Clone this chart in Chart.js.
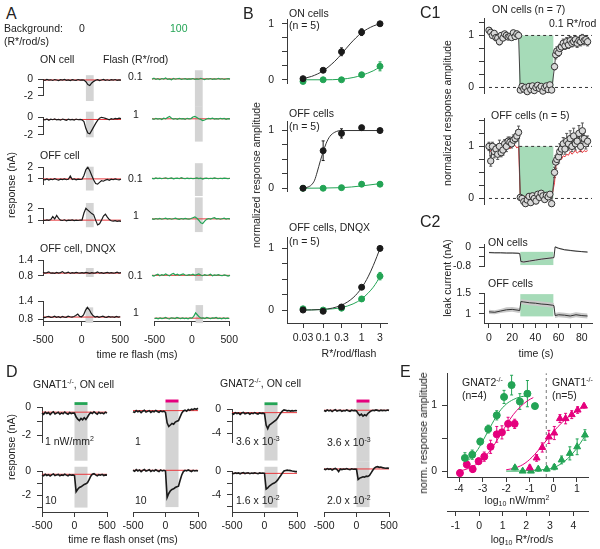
<!DOCTYPE html>
<html>
<head>
<meta charset="utf-8">
<script src="https://cdn.jsdelivr.net/npm/chart.js@4.4.1/dist/chart.umd.min.js"></script>
<style>
  body { margin: 0; width: 600px; height: 549px; position: relative; overflow: hidden; background: #fff;
         font-family: "Liberation Sans", Arial, sans-serif; color: #222; }
  canvas { position: absolute; }
  .t { position: absolute; font-size: 10.5px; line-height: 12px; white-space: nowrap; z-index: 2; }
  .p { position: absolute; font-size: 16px; line-height: 18px; z-index: 2; }
  .r { position: absolute; font-size: 10.5px; line-height: 12px; white-space: nowrap; z-index: 2;
       transform: translate(-50%, -50%) rotate(-90deg); }
  .c { transform: translateX(-50%); }
  sup { font-size: 7px; vertical-align: 4px; line-height: 0; }
  sub { font-size: 7px; vertical-align: -2px; line-height: 0; }
</style>
</head>
<body>
<!-- panel A -->
<div class="p" style="left:6px;top:5px">A</div>
<div class="t" style="left:4px;top:22px">Background:</div>
<div class="t" style="left:4px;top:35px">(R*/rod/s)</div>
<div class="t" style="left:79px;top:22px">0</div>
<div class="t" style="left:170px;top:22px;color:#23a455">100</div>
<div class="t" style="left:40px;top:53px">ON cell</div>
<div class="t" style="left:103px;top:53px">Flash (R*/rod)</div>
<div class="t" style="left:128px;top:70px">0.1</div>
<div class="t" style="left:133px;top:108px">1</div>
<div class="t" style="left:40px;top:149px">OFF cell</div>
<div class="t" style="left:128px;top:172px">0.1</div>
<div class="t" style="left:133px;top:209px">1</div>
<div class="t" style="left:40px;top:242px">OFF cell, DNQX</div>
<div class="t" style="left:128px;top:269px">0.1</div>
<div class="t" style="left:133px;top:306px">1</div>
<div class="t c" style="left:137px;top:348px">time re flash (ms)</div>
<div class="r" style="left:11px;top:185px">response (nA)</div>
<!-- panel B -->
<div class="p" style="left:243px;top:5px">B</div>
<div class="t" style="left:289px;top:7px">ON cells</div>
<div class="t" style="left:289px;top:19px">(n = 5)</div>
<div class="t" style="left:289px;top:107px">OFF cells</div>
<div class="t" style="left:289px;top:120px">(n = 5)</div>
<div class="t" style="left:289px;top:221px">OFF cells, DNQX</div>
<div class="t" style="left:289px;top:235px">(n = 5)</div>
<div class="r" style="left:256px;top:175px">normalized response amplitude</div>
<div class="t c" style="left:349px;top:347px">R*/rod/flash</div>
<!-- panel C -->
<div class="p" style="left:420px;top:4px">C1</div>
<div class="t" style="left:492px;top:3px">ON cells (n = 7)</div>
<div class="t" style="left:549px;top:17px">0.1 R*/rod</div>
<div class="t" style="left:491px;top:109px">OFF cells (n = 5)</div>
<div class="r" style="left:447px;top:113px">normalized response amplitude</div>
<div class="p" style="left:420px;top:213px">C2</div>
<div class="t" style="left:488px;top:236px">ON cells</div>
<div class="t" style="left:488px;top:277px">OFF cells</div>
<div class="r" style="left:447px;top:278px">leak current (nA)</div>
<div class="t c" style="left:536px;top:347px">time (s)</div>
<!-- panel D -->
<div class="p" style="left:6px;top:363px">D</div>
<div class="t" style="left:33px;top:378px">GNAT1<sup>-/-</sup>, ON cell</div>
<div class="t" style="left:220px;top:377px">GNAT2<sup>-/-</sup>, ON cell</div>
<div class="t" style="left:45px;top:435px">1 nW/mm<sup>2</sup></div>
<div class="t" style="left:45px;top:494px">10</div>
<div class="t" style="left:135px;top:435px">1</div>
<div class="t" style="left:135px;top:494px">10</div>
<div class="t" style="left:236px;top:435px">3.6 x 10<sup>-3</sup></div>
<div class="t" style="left:236px;top:494px">1.6 x 10<sup>-2</sup></div>
<div class="t" style="left:327px;top:436px">3.6 x 10<sup>-3</sup></div>
<div class="t" style="left:327px;top:494px">2.0 x 10<sup>-2</sup></div>
<div class="t c" style="left:123px;top:533px">time re flash onset (ms)</div>
<div class="r" style="left:11px;top:447px">response (nA)</div>
<!-- panel E -->
<div class="p" style="left:400px;top:363px">E</div>
<div class="t" style="left:462px;top:376px">GNAT2<sup>-/-</sup></div>
<div class="t" style="left:462px;top:389px">(n=4)</div>
<div class="t" style="left:552px;top:376px">GNAT1<sup>-/-</sup></div>
<div class="t" style="left:552px;top:389px">(n=5)</div>
<div class="r" style="left:423px;top:433px">norm. response amplitude</div>
<div class="t c" style="left:517px;top:494px">log<sub>10</sub> nW/mm<sup>2</sup></div>
<div class="t c" style="left:522px;top:533px">log<sub>10</sub> R*/rod/s</div>

<script>
// ---- time base for the flash traces (ms), A and D ----
const tFlash = [-500,-475,-450,-425,-400,-375,-350,-325,-300,-275,-250,-225,-200,-175,-150,-125,-100,-75,-50,-25,
  0,25,50,75,100,125,150,175,200,225,250,275,300,325,350,375,400,425,450,475,500];

// A, background 0 (black traces)
const onDim0 = [-0.05,-0.12,-0.02,-0.1,-0.06,-0.14,-0.03,-0.09,-0.15,-0.05,-0.1,-0.02,-0.12,-0.07,-0.16,-0.04,-0.09,-0.13,-0.03,-0.1,
  -0.06,-0.1,-0.3,-0.65,-0.75,-0.45,-0.25,-0.12,-0.05,-0.15,-0.08,-0.02,-0.12,-0.06,-0.14,-0.04,-0.1,-0.03,-0.12,-0.07,-0.1];
const onBright0 = [-0.25,-0.3,-0.2,-0.35,-0.22,-0.28,-0.18,-0.3,-0.25,-0.33,-0.2,-0.27,-0.35,-0.22,-0.3,-0.24,-0.32,-0.2,-0.28,-0.25,
  -0.3,-0.5,-1.3,-1.8,-1.9,-1.5,-1.1,-0.7,-0.35,-0.1,0.0,-0.05,-0.12,-0.2,-0.28,-0.15,-0.22,-0.12,-0.18,-0.1,-0.15];
const offDim0 = [0.95,0.92,1.0,0.9,0.97,0.93,1.02,0.95,0.9,0.98,0.94,1.0,0.93,0.97,1.25,0.95,1.0,0.92,0.98,0.95,
  0.97,1.3,1.8,2.0,1.7,1.3,0.9,0.6,0.55,0.7,0.85,0.8,0.9,0.95,0.88,0.98,0.93,1.0,0.95,0.92,0.97];
const offBright0 = [1.0,0.97,1.02,0.98,1.05,1.3,1.1,1.4,1.15,1.0,0.97,1.03,0.95,1.0,0.98,1.02,0.96,1.0,0.97,1.01,
  1.0,1.6,2.0,1.85,1.7,1.55,1.45,1.0,0.6,0.7,1.0,1.35,1.5,1.25,1.05,0.95,0.92,0.95,0.9,0.93,0.9];
const dnqxDim0 = [0.93,0.9,0.92,0.95,0.9,0.91,0.89,0.93,0.9,0.92,0.96,0.9,0.91,0.94,0.89,0.92,0.9,0.93,0.91,0.9,
  0.92,0.9,0.93,0.91,0.89,0.92,0.9,0.91,0.95,0.9,0.92,0.89,0.91,0.93,0.9,0.92,0.9,0.91,0.94,0.9,0.92];
const dnqxBright0 = [0.88,0.86,0.89,0.9,0.87,0.88,0.91,0.87,0.89,0.86,0.9,0.88,0.87,0.91,0.89,0.88,0.9,0.93,0.98,0.9,
  0.89,0.95,1.1,1.2,1.12,1.0,0.92,0.88,0.9,0.87,0.89,0.91,0.88,0.87,0.9,0.88,0.89,0.87,0.9,0.88,0.89];
// A, background 100 (green traces)
const onDim100 = [-0.28,-0.2,-0.3,-0.24,-0.32,-0.22,-0.27,-0.18,-0.3,-0.25,-0.33,-0.22,-0.28,-0.24,-0.2,-0.3,-0.26,-0.23,-0.29,-0.25,
  -0.27,-0.22,-0.3,-0.25,-0.28,-0.2,-0.26,-0.31,-0.24,-0.27,-0.22,-0.3,-0.25,-0.28,-0.21,-0.27,-0.24,-0.3,-0.26,-0.23,-0.27];
const onBright100 = [-0.4,-0.45,-0.36,-0.42,-0.38,-0.46,-0.35,-0.4,-0.3,-0.2,-0.35,-0.42,-0.38,-0.44,-0.37,-0.41,-0.39,-0.45,-0.36,-0.4,
  -0.38,-0.25,-0.2,-0.3,-0.4,-0.45,-0.55,-0.5,-0.42,-0.36,-0.4,-0.34,-0.42,-0.38,-0.43,-0.36,-0.4,-0.37,-0.44,-0.39,-0.41];
const offDim100 = [1.1,1.07,1.13,1.09,1.12,1.08,1.11,1.14,1.09,1.1,1.13,1.07,1.1,1.12,1.08,1.15,1.1,1.08,1.12,1.09,
  1.11,1.08,1.1,1.13,1.09,1.11,1.06,1.1,1.12,1.08,1.11,1.09,1.13,1.1,1.08,1.11,1.09,1.12,1.1,1.08,1.11];
const offBright100 = [1.18,1.15,1.2,1.17,1.21,1.16,1.19,1.22,1.17,1.2,1.16,1.19,1.22,1.18,1.15,1.2,1.17,1.21,1.18,1.16,
  1.2,1.25,1.3,1.22,1.1,0.95,0.9,1.05,1.15,1.2,1.17,1.22,1.25,1.18,1.2,1.16,1.19,1.22,1.17,1.2,1.18];
const dnqxDim100 = [0.9,0.88,0.91,0.93,0.89,0.92,0.9,0.94,0.91,0.89,0.93,0.95,0.91,0.93,0.9,0.92,0.94,0.91,0.9,0.92,
  0.91,0.93,0.9,0.92,0.94,0.91,0.89,0.92,0.9,0.91,0.93,0.89,0.91,0.9,0.92,0.9,0.89,0.91,0.9,0.88,0.9];
const dnqxBright100 = [0.82,0.83,0.81,0.84,0.82,0.83,0.85,0.82,0.81,0.84,0.83,0.82,0.85,0.83,0.82,0.84,0.82,0.83,0.81,0.84,
  0.83,0.88,0.98,0.92,0.86,0.83,0.84,0.82,0.85,0.83,0.82,0.84,0.83,0.85,0.82,0.83,0.81,0.84,0.82,0.83,0.82];
const base0 = [-0.08, -0.25, 1.0, 1.0, 0.9, 0.88];
const base100 = [-0.25, -0.4, 1.1, 1.18, 0.9, 0.83];

// B, flash strengths and normalized amplitudes
const flashes = [0.03, 0.1, 0.3, 1, 3];
const onDark = [0.02, 0.17, 0.5, 0.85, 1.0],    onDarkErr = [0.02, 0.03, 0.07, 0.06, 0.03];
const onBg = [-0.03, 0.0, 0.0, 0.09, 0.24],     onBgErr = [0.02, 0.02, 0.02, 0.04, 0.08];
const offDark = [0.0, 0.65, 0.95, 1.05, 1.0],   offDarkErr = [0.02, 0.17, 0.08, 0.04, 0.02];
const offBg = [0.0, 0.0, 0.01, 0.07, 0.07],     offBgErr = [0.01, 0.01, 0.02, 0.04, 0.04];
const dnqxDark = [0.0, -0.02, 0.05, 0.37, 1.0], dnqxDarkErr = [0.01, 0.01, 0.02, 0.03, 0.02];
const dnqxBg = [0.02, 0.0, 0.03, 0.18, 0.55],   dnqxBgErr = [0.01, 0.01, 0.02, 0.04, 0.06];
// fitted curves
const onDarkFitX = [0.025,0.05,0.1,0.2,0.3,0.5,1,2,3], onDarkFitY = [0.01,0.06,0.16,0.33,0.46,0.64,0.84,0.96,1.0];
const onBgFitX = [0.025,0.1,0.3,0.6,1,2,3],           onBgFitY = [0,0,0.01,0.04,0.08,0.16,0.23];
const offDarkFitX = [0.025,0.04,0.05,0.06,0.07,0.085,0.1,0.12,0.15,0.2,0.3,1,3];
const offDarkFitY = [0,0.02,0.06,0.14,0.28,0.48,0.63,0.78,0.9,0.97,1.0,1.0,1.0];
const offBgFitX = [0.025,0.3,1,3],                    offBgFitY = [0,0.01,0.04,0.08];
const dnqxFitX = [0.025,0.1,0.3,0.6,1,1.5,2,2.5,3];
const dnqxDarkFitY = [0,0.01,0.08,0.2,0.36,0.55,0.72,0.87,1.0];
const dnqxBgFitY = [0,0.01,0.04,0.1,0.18,0.28,0.37,0.46,0.55];

// C1, time (s) and normalized amplitude
const tC1 = [0,1.5,3,4.5,6,7.5,9,10.5,12,13.5,15,16.5,18,19.5,21,22.5,24,25.5,
  27,28.5,30,31.5,33,34.5,36,37.5,39,40.5,42,43.5,45,46.5,48,49.5,51,52.5,54,
  56.5,57.5,58.5,60,61,62.5,64,65.5,67,68.5,70,71.5,73,74.5,76,77.5,79,80.5,82,83.5,85];
const onAmp = [1.1,1.06,1.0,1.04,0.96,0.95,0.88,1.0,0.95,1.03,1.0,0.97,0.98,0.96,1.05,0.98,1.03,1.0,
  -0.05,0.02,-0.03,0.0,-0.08,0.02,-0.04,0.03,-0.06,0.0,0.04,-0.02,0.02,-0.07,0.0,0.03,-0.04,0.05,-0.05,
  0.4,0.63,0.7,0.67,0.75,0.78,0.85,0.8,0.88,0.82,0.9,0.85,0.88,0.92,0.85,0.9,0.88,0.95,0.9,0.92,0.88];
const onAmpErr = [0.05,0.04,0.05,0.04,0.06,0.05,0.06,0.04,0.05,0.04,0.05,0.04,0.05,0.04,0.05,0.04,0.05,0.04,
  0.03,0.03,0.03,0.03,0.03,0.03,0.03,0.03,0.03,0.03,0.03,0.03,0.03,0.03,0.03,0.03,0.03,0.03,0.03,
  0.06,0.08,0.08,0.07,0.08,0.07,0.08,0.07,0.08,0.07,0.08,0.07,0.08,0.07,0.08,0.07,0.08,0.07,0.08,0.07,0.08];
const offAmp = [1.0,0.72,1.0,0.9,0.95,0.85,1.0,0.88,0.93,1.05,1.0,1.1,1.08,1.05,1.12,1.15,1.2,1.27,
  0.02,0.0,-0.06,-0.1,-0.03,0.04,-0.08,0.05,0.0,-0.05,0.08,0.02,0.1,0.05,-0.02,0.06,0.03,0.08,-0.1,
  0.5,0.7,0.75,0.8,0.9,0.95,1.05,0.95,1.1,1.05,1.15,1.0,1.2,1.05,1.1,1.25,1.0,1.3,1.15,1.05,1.1];
const offAmpErr = [0.08,0.1,0.08,0.12,0.08,0.1,0.12,0.08,0.1,0.08,0.1,0.08,0.1,0.08,0.1,0.08,0.1,0.12,
  0.05,0.05,0.05,0.05,0.05,0.05,0.05,0.05,0.05,0.05,0.05,0.05,0.05,0.05,0.05,0.05,0.05,0.05,0.05,
  0.1,0.12,0.1,0.12,0.15,0.1,0.12,0.1,0.15,0.12,0.15,0.1,0.15,0.12,0.1,0.15,0.1,0.15,0.12,0.1,0.1];
const offRed = [0.95,0.9,1.0,0.95,1.0,0.92,0.97,0.9,0.98,1.02,0.97,1.0,0.95,1.0,1.05,1.02,0.97,1.0,
  0.0,0.03,-0.02,0.05,0.0,0.04,-0.03,0.02,0.05,0.0,0.03,-0.02,0.04,0.06,0.02,0.0,0.05,0.03,0.02,
  0.3,0.6,0.7,0.72,0.78,0.75,0.82,0.8,0.85,0.83,0.9,0.85,0.88,0.92,0.87,0.9,0.93,0.88,0.92,0.9,0.92];

// C2, leak current (nA) with s.e.m.
const tC2 = [0,5,10,15,20,25,26.5,27.5,30,35,40,45,50,55,56,57,60,65,70,75,80,85];
const onLeak = [-0.22,-0.23,-0.23,-0.24,-0.24,-0.25,-0.26,-0.6,-0.62,-0.58,-0.54,-0.5,-0.47,-0.44,-0.43,0.02,-0.04,-0.1,-0.13,-0.16,-0.18,-0.2];
const onSem = [0.03,0.03,0.03,0.03,0.03,0.03,0.03,0.04,0.04,0.04,0.04,0.04,0.04,0.04,0.04,0.04,0.03,0.03,0.03,0.03,0.03,0.03];
const offLeak = [1.05,1.04,1.07,1.1,1.11,1.09,1.08,1.3,1.29,1.27,1.26,1.24,1.23,1.21,1.2,0.96,0.98,0.97,0.95,0.98,0.96,0.95];
const offSem = [0.05,0.05,0.05,0.06,0.06,0.06,0.06,0.06,0.06,0.06,0.06,0.06,0.06,0.06,0.06,0.06,0.06,0.06,0.06,0.06,0.06,0.06];

// D, GNAT1-/- and GNAT2-/- ON cells (nA)
const g1Low = [-0.4,-0.5,-0.35,-0.45,-0.38,-0.52,-0.4,-0.33,-0.48,-0.42,-0.36,-0.5,-0.4,-0.46,-0.34,-0.44,-0.5,-0.38,-0.45,-0.41,
  -0.42,-0.7,-0.85,-0.95,-0.8,-0.9,-0.75,-0.88,-0.7,-0.5,-0.38,-0.45,-0.32,-0.42,-0.5,-0.36,-0.44,-0.4,-0.47,-0.35,-0.42];
const g1High = [-0.3,-0.38,-0.25,-0.35,-0.28,-0.4,-0.3,-0.22,-0.36,-0.3,-0.26,-0.38,-0.3,-0.34,-0.25,-0.32,-0.38,-0.28,-0.33,-0.3,
  -0.35,-1.7,-1.5,-1.35,-1.3,-1.2,-1.1,-1.05,-0.95,-0.7,-0.4,-0.25,-0.2,-0.3,-0.38,-0.28,-0.33,-0.26,-0.35,-0.3,-0.32];
const g1UvLow = [-0.45,-0.5,-0.38,-0.46,-0.4,-0.52,-0.42,-0.36,-0.48,-0.43,-0.38,-0.5,-0.42,-0.46,-0.37,-0.44,-0.49,-0.4,-0.45,-0.42,
  -0.5,-1.2,-1.45,-1.35,-1.25,-1.3,-1.15,-1.1,-1.05,-0.8,-0.55,-0.4,-0.35,-0.42,-0.3,-0.36,-0.28,-0.32,-0.25,-0.3,-0.22];
const g1UvHigh = [-0.25,-0.32,-0.2,-0.3,-0.22,-0.35,-0.25,-0.18,-0.3,-0.26,-0.2,-0.33,-0.25,-0.3,-0.2,-0.28,-0.34,-0.22,-0.3,-0.25,
  -0.3,-2.3,-2.0,-1.8,-1.7,-1.65,-1.55,-1.5,-1.45,-1.0,-0.6,-0.35,-0.25,-0.3,-0.22,-0.28,-0.34,-0.25,-0.3,-0.27,-0.3];
const g2Low = [-0.65,-0.8,-0.55,-0.7,-0.6,-0.85,-0.62,-0.5,-0.75,-0.65,-0.58,-0.8,-0.63,-0.72,-0.55,-0.68,-0.78,-0.6,-0.7,-0.64,
  -0.7,-2.6,-3.2,-2.6,-2.4,-2.2,-2.0,-1.8,-1.5,-1.0,-0.6,-0.3,-0.1,-0.15,-0.25,-0.2,-0.3,-0.22,-0.28,-0.2,-0.25];
const g2High = [-0.3,-0.4,-0.25,-0.35,-0.28,-0.42,-0.3,-0.22,-0.38,-0.3,-0.26,-0.4,-0.3,-0.35,-0.25,-0.33,-0.4,-0.28,-0.34,-0.3,
  -0.35,-3.0,-2.8,-2.5,-2.3,-2.1,-2.0,-1.8,-1.5,-1.1,-0.7,-0.3,0.05,0.15,0.2,0.15,0.12,0.05,0.0,-0.05,-0.05];
const g2UvLow = [-0.55,-0.65,-0.45,-0.6,-0.5,-0.7,-0.52,-0.42,-0.62,-0.55,-0.48,-0.66,-0.55,-0.6,-0.45,-0.58,-0.66,-0.5,-0.58,-0.53,
  -0.6,-1.0,-1.3,-1.1,-1.4,-1.2,-1.35,-1.0,-0.8,-0.6,-0.5,-0.55,-0.45,-0.52,-0.6,-0.48,-0.55,-0.5,-0.58,-0.46,-0.52];
const g2UvHigh = [-0.3,-0.4,-0.25,-0.35,-0.28,-0.45,-0.3,-0.22,-0.38,-0.7,-0.3,-0.4,-0.3,-0.35,-0.25,-0.33,-0.4,-0.28,-0.34,-0.3,
  -0.35,-1.9,-1.7,-1.6,-1.5,-1.55,-1.4,-1.45,-1.3,-0.9,-0.5,-0.15,0.0,0.05,-0.05,0.0,-0.1,-0.15,-0.2,-0.15,-0.2];
const baseD = [[-0.35, -0.25], [-0.38, -0.25], [-0.55, -0.35], [-0.5, -0.3]];

// E, log10 intensity (nW/mm2) vs normalized amplitude
const g2GreenX = [-3.75,-3.44,-3.1,-2.76,-2.4,-2.09,-1.77,-1.42,-1.1,-0.78];
const g2GreenY = [0.2,0.25,0.45,0.64,0.85,1.13,1.31,1.06,1.18,0.99];
const g2GreenErr = [0.08,0.07,0.05,0.06,0.07,0.1,0.15,0.12,0.2,0];
const g2UvX = [-3.96,-3.67,-3.42,-3.17,-2.93,-2.66,-2.4,-2.18,-1.92,-1.64];
const g2UvY = [-0.03,0.1,0.03,0.15,0.22,0.37,0.56,0.59,0.72,0.72];
const g2UvErr = [0.05,0.05,0.05,0.05,0.07,0.1,0.12,0.1,0.1,0.07];
const g1UvX = [-1.0,-0.71,-0.47,-0.19,0.04,0.28,0.52,0.78,1.03,1.3];
const g1UvY = [0.05,0.2,0.36,0.52,0.58,0.8,0.8,0.86,0.93,0.99];
const g1UvErr = [0.04,0.05,0.07,0.1,0.1,0.06,0.08,0.06,0.05,0.03];
const g1GreenX = [-1.63,-1.3,-0.95,-0.64,-0.28,0.04,0.35,0.7,1.01,1.34];
const g1GreenY = [0.05,0.0,0.0,0.03,0.03,0.06,0.17,0.27,0.37,0.55];
const g1GreenErr = [0.03,0.02,0.02,0.03,0.03,0.04,0.06,0.1,0.12,0.08];
const g2GreenFitX = [-3.8,-3.5,-3.2,-2.9,-2.6,-2.3,-2.0,-1.7,-1.4,-1.1];
const g2GreenFitY = [0.12,0.2,0.33,0.52,0.72,0.9,1.02,1.09,1.13,1.15];
const g2UvFitX = [-4.0,-3.6,-3.2,-2.9,-2.6,-2.3,-2.0,-1.7,-1.4,-1.1,-0.85];
const g2UvFitY = [0.0,0.04,0.12,0.22,0.35,0.52,0.7,0.86,0.98,1.07,1.12];
const g1UvFitX = [-2.0,-1.6,-1.2,-0.8,-0.4,0,0.4,0.8,1.3];
const g1UvFitY = [0.02,0.05,0.12,0.25,0.42,0.6,0.75,0.87,0.98];
const g1GreenFitX = [-2.0,-1.5,-1.0,-0.5,0,0.4,0.8,1.1,1.4];
const g1GreenFitY = [0.0,0.0,0.01,0.02,0.05,0.13,0.26,0.4,0.57];

// ---- colours ----
const BLACK = '#1a1a1a', GREEN = '#23a455', MAGENTA = '#e5007d', RED = '#e8383d',
      GRAY = '#d4d4d4', MINT = '#a6dbb8', AXIS = '#3a3a3a';

Chart.defaults.font.family = '"Liberation Sans", Arial, sans-serif';
Chart.defaults.font.size = 10.5;
Chart.defaults.color = '#222';

// shaded boxes + error bars, drawn under the datasets
const boxMap = new WeakMap();
const extras = {
  id: 'extras',
  beforeDatasetsDraw(chart) {
    const ctx = chart.ctx, xs = chart.scales.x, ys = chart.scales.y;
    ctx.save();
    (boxMap.get(chart.canvas) || []).forEach(b => {
      const x0 = xs.getPixelForValue(b.x0), x1 = xs.getPixelForValue(b.x1);
      const y0 = ys.getPixelForValue(b.y0), y1 = ys.getPixelForValue(b.y1);
      ctx.fillStyle = b.color;
      ctx.fillRect(x0, Math.min(y0, y1), x1 - x0, Math.abs(y1 - y0));
    });
    chart.data.datasets.forEach((ds, i) => {
      if (!ds.errs) return;
      ctx.strokeStyle = ds.errColor || ds.borderColor;
      ctx.lineWidth = 1;
      chart.getDatasetMeta(i).data.forEach((p, j) => {
        const e = ds.errs[j];
        if (!e) return;
        const v = ds.data[j].y;
        const a = ys.getPixelForValue(v - e), b = ys.getPixelForValue(v + e);
        ctx.beginPath();
        ctx.moveTo(p.x, a); ctx.lineTo(p.x, b);
        ctx.moveTo(p.x - 1.5, a); ctx.lineTo(p.x + 1.5, a);
        ctx.moveTo(p.x - 1.5, b); ctx.lineTo(p.x + 1.5, b);
        ctx.stroke();
      });
    });
    ctx.restore();
  }
};

function axis(a, horiz, size, weight) {
  return {
    type: a.type || 'linear', display: !!a.show, position: horiz ? 'bottom' : 'left', weight,
    min: a.min, max: a.max,
    border: { display: true, color: AXIS, width: 1 },
    grid: { drawOnChartArea: false, drawTicks: true, tickLength: 5, color: AXIS },
    ticks: { padding: a.pad ?? 4, autoSkip: false, maxRotation: 0, color: '#222', font: { size: 10.5 },
      callback: v => (a.labels || []).includes(v) ? String(v) : '' },
    afterBuildTicks: s => { s.ticks = (a.ticks || []).map(v => ({ value: v })); },
    afterFit: s => { if (horiz) s.height = size; else s.width = size; }
  };
}

// o.l/o.t/o.w/o.h give the plot area in page pixels
function plot(o) {
  const yw = o.y.show ? 32 : 0;
  const xh = o.x.show ? (o.xh || 36) : 0;
  const x2h = o.x2 ? o.x2.h : 0;
  const pad = { left: o.y.show ? 0 : 16, top: o.mt || 8, right: 16, bottom: o.x.show ? 0 : (o.mb || 8) };
  const cv = document.createElement('canvas');
  cv.width = o.w + yw + pad.left + pad.right;
  cv.height = o.h + xh + x2h + pad.top + pad.bottom;
  cv.style.left = (o.l - yw - pad.left) + 'px';
  cv.style.top = (o.t - pad.top) + 'px';
  document.body.appendChild(cv);
  boxMap.set(cv, o.boxes || []);
  const scales = { x: axis(o.x, true, xh, 0), y: axis(o.y, false, yw, 0) };
  if (o.x2) scales.x2 = axis(o.x2, true, x2h, 1);
  return new Chart(cv, {
    type: 'line',
    data: { datasets: o.ds },
    options: {
      responsive: false, animation: false, events: [], devicePixelRatio: 1,
      layout: { padding: pad }, scales,
      plugins: { legend: { display: false }, tooltip: { enabled: false } }
    },
    plugins: [extras]
  });
}

const xy = (xs, ys) => xs.map((x, i) => ({ x, y: ys[i] }));
const line = (xs, ys, color, w, extra) => Object.assign({ data: xy(xs, ys), showLine: true, borderColor: color,
  borderWidth: w || 1, pointRadius: 0, clip: false, tension: 0, fill: false }, extra);
const fit = (xs, ys, color) => line(xs, ys, color, 1, { cubicInterpolationMode: 'monotone' });
const dots = (xs, ys, errs, color, extra) => Object.assign({ data: xy(xs, ys), showLine: false, pointRadius: 3,
  pointBackgroundColor: color, pointBorderColor: color, borderColor: color, errs, clip: false }, extra);

// ---------------- A ----------------
const rowsA = [
  { t: 76,  h: 23, min: -2,   max: 0,   ticks: [-2, -1, 0], labels: [-2, 0],     band: [-2.65, 0.5] },
  { t: 114, h: 24, min: -2,   max: 0,   ticks: [-2, -1, 0], labels: [-2, 0],     band: [-2.3, 0.65] },
  { t: 164, h: 24, min: 0.5,  max: 2,   ticks: [1, 2],      labels: [1, 2],      band: [0.0, 2.05] },
  { t: 205, h: 22, min: 0.7,  max: 2,   ticks: [1, 2],      labels: [1, 2],      band: [0.4, 2.45] },
  { t: 257, h: 22, min: 0.8,  max: 1.4, ticks: [0.8, 1.4],  labels: [0.8, 1.4],  band: [0.75, 1.1] },
  { t: 298, h: 23, min: 0.75, max: 1.4, ticks: [0.8, 1.4],  labels: [0.8, 1.4],  band: [0.69, 1.2] }
];
const dark = [onDim0, onBright0, offDim0, offBright0, dnqxDim0, dnqxBright0];
const bright = [onDim100, onBright100, offDim100, offBright100, dnqxDim100, dnqxBright100];
rowsA.forEach((r, i) => {
  const last = i === rowsA.length - 1;
  [[43, dark[i], base0[i], BLACK, true], [152, bright[i], base100[i], GREEN, false]].forEach(([l, ys, base, col, yAx]) => {
    plot({ l, t: r.t, w: 78, h: r.h,
      x: { show: last, min: -500, max: 500, ticks: [-500, 0, 500], labels: [-500, 0, 500], pad: 8 },
      y: { show: yAx, min: r.min, max: r.max, ticks: r.ticks, labels: r.labels, pad: 5 },
      boxes: [{ x0: 50, x1: 150, y0: r.band[0], y1: r.band[1], color: GRAY }],
      // trace listed first so it is drawn over the red baseline
      ds: [line(tFlash, ys, col, 1.2), line([-500, 500], [base, base], RED, 1)] });
  });
});

// ---------------- B ----------------
const panelsB = [
  { t: 13,  h: 77, min: -0.07, max: 1.08, dk: [onDark, onDarkErr, onDarkFitX, onDarkFitY], bg: [onBg, onBgErr, onBgFitX, onBgFitY] },
  { t: 115, h: 83, min: -0.06, max: 1.16, dk: [offDark, offDarkErr, offDarkFitX, offDarkFitY], bg: [offBg, offBgErr, offBgFitX, offBgFitY] },
  { t: 231, h: 92, min: -0.21, max: 1.18, dk: [dnqxDark, dnqxDarkErr, dnqxFitX, dnqxDarkFitY], bg: [dnqxBg, dnqxBgErr, dnqxFitX, dnqxBgFitY] }
];
panelsB.forEach((p, i) => {
  plot({ l: 287, t: p.t, w: 100, h: p.h,
    x: { show: i === 2, type: 'logarithmic', min: 0.0115, max: 4.56, ticks: flashes, labels: flashes, pad: 4 },
    y: { show: true, min: p.min, max: p.max, ticks: [0, 0.25, 0.5, 0.75, 1], labels: [0, 1], pad: 8 },
    ds: [dots(flashes, p.dk[0], p.dk[1], BLACK), dots(flashes, p.bg[0], p.bg[1], GREEN),
         fit(p.dk[2], p.dk[3], '#333'), fit(p.bg[2], p.bg[3], GREEN)] });
});

// ---------------- C1 ----------------
const circle = (ys, errs) => dots(tC1, ys, errs, '#444', { showLine: true, borderWidth: 1, pointRadius: 3.2,
  pointBackgroundColor: '#d9d9d9', pointBorderColor: '#333', errColor: '#555' });
const dashed = (x0, x1, y) => line([x0, x1], [y, y], '#333', 1, { borderDash: [3, 3] });
plot({ l: 484, t: 15, w: 108, h: 82,
  x: { show: false, min: -4.3, max: 88.8 },
  y: { show: true, min: -0.12, max: 1.33, ticks: [0, 0.25, 0.5, 0.75, 1, 1.25], labels: [0, 1], pad: 5 },
  boxes: [{ x0: 26, x1: 55.5, y0: 0, y1: 1, color: MINT }],
  ds: [circle(onAmp, onAmpErr), dashed(26, 88.8, 1), dashed(0, 88.8, 0)] });
plot({ l: 484, t: 115, w: 108, h: 93,
  x: { show: false, min: -4.3, max: 88.8 },
  y: { show: true, min: -0.12, max: 1.54, ticks: [0, 0.25, 0.5, 0.75, 1, 1.25, 1.5], labels: [0, 1], pad: 5 },
  boxes: [{ x0: 26, x1: 55.5, y0: 0, y1: 1, color: MINT }],
  ds: [circle(offAmp, offAmpErr), line(tC1, offRed, RED, 1), dashed(26, 88.8, 1), dashed(0, 88.8, 0)] });

// ---------------- C2 ----------------
const band = (mean, sem) => [
  line(tC2, mean.map((v, i) => v + sem[i]), 'rgba(0,0,0,0)', 0),
  line(tC2, mean.map((v, i) => v - sem[i]), 'rgba(0,0,0,0)', 0, { fill: '-1', backgroundColor: '#c9c9c9' })
];
plot({ l: 484, t: 238, w: 108, h: 35,
  x: { show: false, min: -4.3, max: 88.8 },
  y: { show: true, min: -0.82, max: 0.13, ticks: [-0.8, -0.4, 0], labels: [-0.8, 0], pad: 8 },
  boxes: [{ x0: 27, x1: 55.5, y0: -0.75, y1: -0.19, color: MINT }],
  ds: [line(tC2, onLeak, '#333', 1), ...band(onLeak, onSem)] });
plot({ l: 484, t: 287, w: 108, h: 36,
  x: { show: true, min: -4.3, max: 88.8, ticks: [0, 10, 20, 30, 40, 50, 60, 70, 80], labels: [0, 20, 40, 60, 80], pad: 4 },
  y: { show: true, min: 0.78, max: 1.5, ticks: [1, 1.25, 1.5], labels: [1, 1.5], pad: 8 },
  boxes: [{ x0: 27, x1: 55.5, y0: 0.94, y1: 1.48, color: MINT }],
  ds: [line(tC2, offLeak, '#333', 1), ...band(offLeak, offSem)] });

// ---------------- D ----------------
const colsD = [
  { l: 42,  yAx: true,  bar: GREEN,   k: 0, tr: [g1Low, g1High] },
  { l: 133, yAx: false, bar: MAGENTA, k: 0, tr: [g1UvLow, g1UvHigh] },
  { l: 232, yAx: true,  bar: GREEN,   k: 1, tr: [g2Low, g2High] },
  { l: 324, yAx: false, bar: MAGENTA, k: 1, tr: [g2UvLow, g2UvHigh] }
];
const rowsD = [
  [ { t: 405, h: 37, min: -2.5, ticks: [-2, -1, 0], labels: [-2, 0], band: [-3.85, 0.2], bar: [0.17, 0.37] },
    { t: 467, h: 45, min: -3.4, ticks: [-3, -2, -1, 0], labels: [-2, 0], band: [-3.03, 0.38] } ],
  [ { t: 407, h: 35, min: -5.4, ticks: [-4, -2, 0], labels: [-4, 0], band: [-8.46, 0.77], bar: [0.69, 1.15] },
    { t: 467, h: 45, min: -6.9, ticks: [-6, -4, -2, 0], labels: [-4, 0], band: [-6.15, 0.77] } ]
];
colsD.forEach((c, ci) => {
  rowsD[c.k].forEach((r, ri) => {
    const boxes = [{ x0: 0, x1: 200, y0: r.band[0], y1: r.band[1], color: GRAY }];
    if (r.bar) boxes.push({ x0: 0, x1: 200, y0: r.bar[0], y1: r.bar[1], color: c.bar });
    const base = baseD[ci][ri];
    plot({ l: c.l, t: r.t, w: 65, h: r.h, mt: ri === 0 ? 10 : 8, mb: 22,
      x: { show: ri === 1, min: -500, max: 500, ticks: [-500, 0, 500], labels: [-500, 0, 500], pad: 3 },
      y: { show: c.yAx, min: r.min, max: 0, ticks: r.ticks, labels: r.labels, pad: 6 },
      boxes,
      ds: [line(tFlash, c.tr[ri], BLACK, 1.6), line([-500, 500], [base, base], RED, 1)] });
  });
});

// ---------------- E ----------------
const tri = { pointStyle: 'triangle', pointRadius: 4 };
plot({ l: 447, t: 370, w: 141, h: 107, xh: 34,
  x: { show: true, min: -4.51, max: 1.47, ticks: [-4, -3, -2, -1, 0, 1], labels: [-4, -3, -2, -1, 0, 1], pad: 1 },
  x2: { show: true, min: -1.36, max: 4.62, ticks: [-1, 0, 1, 2, 3, 4], labels: [-1, 0, 1, 2, 3, 4], pad: 4, h: 38 },
  y: { show: true, min: -0.09, max: 1.49, ticks: [0, 0.5, 1], labels: [0, 1], pad: 5 },
  ds: [
    dots(g2GreenX, g2GreenY, g2GreenErr, GREEN, { pointRadius: 3.5 }),
    dots(g2UvX, g2UvY, g2UvErr, MAGENTA, { pointRadius: 3.5 }),
    dots(g1UvX, g1UvY, g1UvErr, MAGENTA, tri),
    dots(g1GreenX, g1GreenY, g1GreenErr, GREEN, tri),
    fit(g2GreenFitX, g2GreenFitY, GREEN),
    fit(g2UvFitX, g2UvFitY, MAGENTA),
    fit(g1UvFitX, g1UvFitY, MAGENTA),
    fit(g1GreenFitX, g1GreenFitY, GREEN),
    line([-0.3, -0.3], [-0.09, 1.49], '#777', 1, { borderDash: [3, 3] })
  ] });
</script>
</body>
</html>
